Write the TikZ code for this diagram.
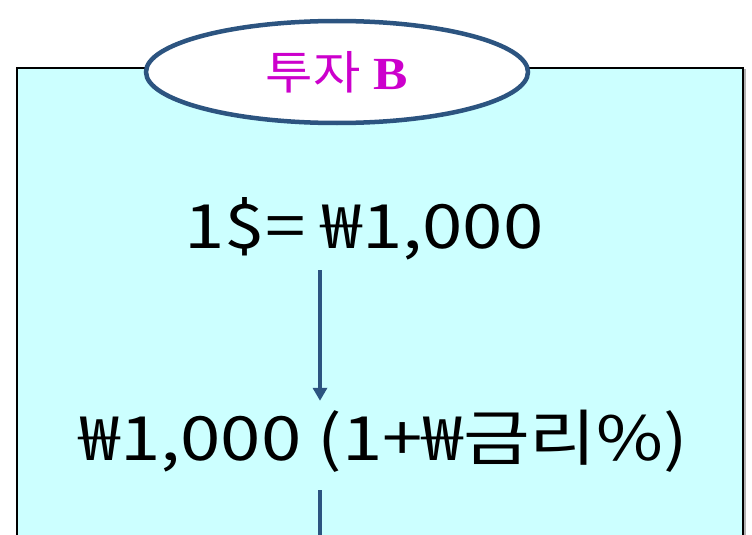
\documentclass[tikz,border=0pt]{standalone}
\usepackage{fontspec}
\setmainfont{Liberation Serif}
\newfontfamily\kor{Noto Sans CJK KR}
\usetikzlibrary{shapes.geometric,arrows.meta}
\definecolor{edgeblue}{RGB}{44,84,128}
\definecolor{boxfill}{RGB}{204,255,255}
\definecolor{titlemag}{RGB}{204,0,204}
\newcommand{\wide}[1]{\scalebox{1.19}[1]{#1}}
\tikzset{
  bigtext/.style={inner sep=0pt, text height=45pt, text depth=0pt, font=\kor\fontsize{61}{61}\selectfont, text=black},
  conn/.style={draw=edgeblue, line width=3.5pt},
}
\begin{document}
\begin{tikzpicture}[x=1pt,y=-1pt]
\useasboundingbox (0,0) rectangle (752,535);
\clip (0,0) rectangle (752,535);
% panel
\draw[gray!60, line width=2pt] (19,70) rectangle (745,560);
\draw[black, line width=2pt, fill=boxfill] (17,68) rectangle (743,560);
% title ellipse
\node[ellipse, draw=edgeblue, line width=4.5pt, fill=white, minimum width=382pt, minimum height=102pt, inner sep=0pt,
      text=titlemag, font=\fontsize{46}{46}\selectfont] (title) at (337,72) {\scalebox{1.12}[1]{{\kor 투자} \textbf{B}}};
% texts
\node[bigtext, anchor=base] (t1) at (364,248) {\wide{1\$= ₩1,000}};
\node[bigtext, anchor=base] (t2) at (384,460) {\wide{₩1,000 (1+₩금리\%)}};
\coordinate (ax) at (320,0);
\coordinate (lineend) at (320,560);
\draw[conn, -{Triangle[length=13pt,width=14pt]}, shorten <=22pt, shorten >=14pt] (t1.south -| ax) -- (t2.north -| ax);
\draw[conn, shorten <=30pt] (t2.south -| ax) -- (lineend);
\end{tikzpicture}
\end{document}
